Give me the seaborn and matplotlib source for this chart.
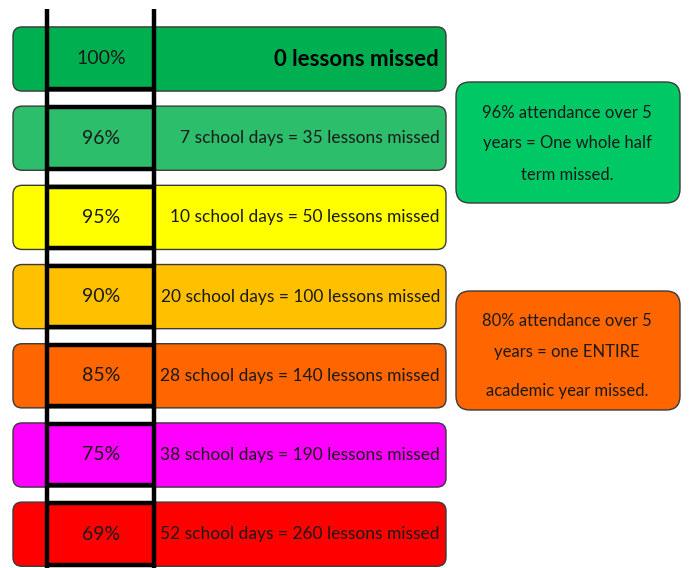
import numpy as np
import pandas as pd
import matplotlib
matplotlib.use('Agg')
import matplotlib.pyplot as plt
import seaborn as sns
from matplotlib.patches import FancyBboxPatch

# attendance ladder data
percent = [100, 96, 95, 90, 85, 75, 69]
days_missed = [0, 7, 10, 20, 28, 38, 52]
lessons_missed = [0, 35, 50, 100, 140, 190, 260]
row_colors = ['#00B050', '#2DBE6C', '#FFFF00', '#FFC000', '#FF6600', '#FF00FF', '#FF0000']

notes = [
    ['96% attendance over 5', 'years = One whole half', 'term missed.'],
    ['80% attendance over 5', 'years = one ENTIRE', 'academic year missed.'],
]
note_colors = ['#00C864', '#FF6600']

sns.set_theme(style='white')
plt.rcParams['font.family'] = ['Lato', 'DejaVu Sans']

fig = plt.figure(figsize=(6.9, 5.68), dpi=100)
ax = fig.add_axes([0, 0, 1, 1])

df = pd.DataFrame({'label': [f'{p}%' for p in percent], 'span': [433] * len(percent)})
sns.barplot(data=df, x='span', y='label', hue='label', palette=row_colors,
            width=0.81, saturation=1, legend=False, ax=ax, orient='h')

UY = 79.2  # pixels per category step


def py(v):
    return (v - 59) / UY


ax.set_xlim(-13, 677)
ax.set_ylim(py(568), py(0))
ax.axis('off')

# swap square bars for rounded boxes
for bar in list(ax.patches):
    x0, y0 = bar.get_x(), bar.get_y()
    w, h = bar.get_width(), bar.get_height()
    i = int(round(y0 + h / 2))
    bar.remove()
    ax.add_patch(FancyBboxPatch((x0, y0), w, h, boxstyle='round,pad=0,rounding_size=9',
                                mutation_aspect=1 / UY, fc=row_colors[i], ec='#3a3a3a',
                                lw=1, zorder=2))

# ladder
lx, rx = 34, 141
for x in (lx, rx):
    ax.plot([x, x], [py(9), py(570)], color='black', lw=3.2, zorder=4, solid_capstyle='butt')
for i in range(len(percent)):
    top, bot = i - 0.39, i + 0.385
    ax.plot([lx, rx], [bot, bot], color='black', lw=3.2, zorder=4)
    if i > 0:
        ax.plot([lx, rx], [top, top], color='black', lw=3.2, zorder=4)

# row labels
for i, (p, d, l) in enumerate(zip(percent, days_missed, lessons_missed)):
    ax.text(88, i, f'{p}%', ha='center', va='center', fontsize=14, color='#1a1a1a', zorder=5)
    if d == 0:
        ax.text(426, i, f'{l} lessons missed', ha='right', va='center', fontsize=16,
                fontweight='bold', color='black', zorder=5)
    else:
        ax.text(427, i, f'{d} school days = {l} lessons missed', ha='right', va='center',
                fontsize=12.5, color='#1a1a1a', zorder=5)

# side notes
boxes = [(82, 203, [113, 143, 175]), (291, 410, [321, 352, 391])]
for (top, bot, lines), txt, c in zip(boxes, notes, note_colors):
    ax.add_patch(FancyBboxPatch((443, py(top)), 224, (bot - top) / UY,
                                boxstyle='round,pad=0,rounding_size=14', mutation_aspect=1 / UY,
                                fc=c, ec='#3a3a3a', lw=1, zorder=2))
    for yy, t in zip(lines, txt):
        ax.text(554, py(yy), t, ha='center', va='center', fontsize=12, color='#1a1a1a', zorder=5)

fig.savefig('out.png', dpi=100)
